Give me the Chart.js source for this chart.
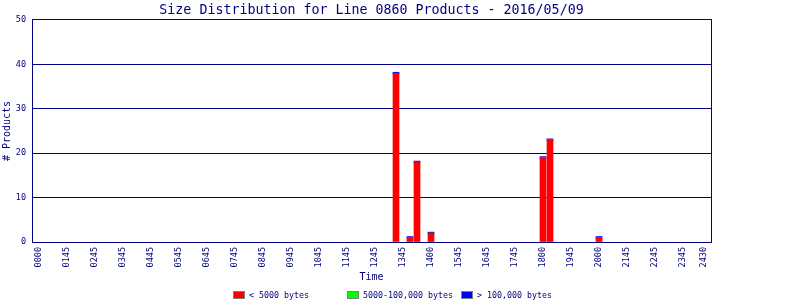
<!DOCTYPE html>
<html>
<head>
<meta charset="utf-8">
<script src="https://cdn.jsdelivr.net/npm/chart.js@4/dist/chart.umd.min.js"></script>
<style>
  html, body { margin: 0; padding: 0; background: #ffffff; }
  #wrap { width: 800px; height: 300px; }
</style>
</head>
<body>
<div id="wrap"><canvas id="c" width="800" height="300"></canvas></div>
<script>
// ---- data ----
const chartTitle = 'Size Distribution for Line 0860 Products - 2016/05/09';
const seriesNames = ['< 5000 bytes', '5000-100,000 bytes', '> 100,000 bytes'];
const seriesColors = ['#ff0000', '#00ff00', '#0000ff'];
// time slots (x positions) that have products
const barSlots = [51, 53, 54, 56, 72, 73, 80];
const smallCounts = [38, 1, 18, 2, 19, 23, 1];
const mediumCounts = [0, 0, 0, 0, 0, 0, 0];
const largeCounts = [0, 0, 0, 0, 0, 0, 0];
// x tick labels and their slots
const tickSlots = [0, 4, 8, 12, 16, 20, 24, 28, 32, 36, 40, 44, 48, 52, 56, 60, 64, 68, 72, 76, 80, 84, 88, 92, 95];
const tickLabels = ['0000', '0145', '0245', '0345', '0445', '0545', '0645', '0745', '0845', '0945', '1045', '1145', '1245',
  '1345', '1400', '1545', '1645', '1745', '1800', '1945', '2000', '2145', '2245', '2345', '2430'];
const yMax = 50;
const yStep = 10;

// ---- styling ----
const NAVY = '#000080';
const MONO = "'DejaVu Sans Mono', 'Liberation Mono', monospace";

function pts(vals) { return barSlots.map((s, i) => ({ x: s, y: vals[i] })); }

const legendPlugin = {
  id: 'fixedLegend',
  afterDraw(chart) {
    const ctx = chart.ctx;
    ctx.save();
    const startX = 233, colW = 114, boxY = 291, boxW = 12, boxH = 8;
    ctx.font = '8.3px ' + MONO;
    ctx.textBaseline = 'middle';
    ctx.textAlign = 'left';
    seriesNames.forEach((name, i) => {
      const x = startX + i * colW;
      ctx.fillStyle = seriesColors[i];
      ctx.fillRect(x, boxY, boxW, boxH);
      ctx.strokeStyle = '#808080';
      ctx.lineWidth = 1;
      ctx.strokeRect(x + 0.5, boxY + 0.5, boxW - 1, boxH - 1);
      ctx.fillStyle = NAVY;
      ctx.fillText(name, x + 16, boxY + boxH / 2 + 0.5);
    });
    ctx.restore();
  }
};

new Chart(document.getElementById('c'), {
  type: 'bar',
  data: {
    datasets: [
      { label: seriesNames[0], data: pts(smallCounts), backgroundColor: seriesColors[0], stack: 's' },
      { label: seriesNames[1], data: pts(mediumCounts), backgroundColor: seriesColors[1], stack: 's' },
      { label: seriesNames[2], data: pts(largeCounts), backgroundColor: seriesColors[2], stack: 's', minBarLength: 2 }
    ]
  },
  options: {
    responsive: false,
    animation: false,
    layout: { padding: { left: 0, right: 89, top: 0, bottom: 12 } },
    datasets: { bar: { barThickness: 6, borderWidth: 0 } },
    plugins: {
      legend: { display: false },
      tooltip: { enabled: false },
      title: {
        display: true,
        text: chartTitle,
        fullSize: false,
        color: NAVY,
        font: { family: MONO, size: 13.3, weight: 'normal', lineHeight: 1.2 },
        padding: { top: 3, bottom: 1 }
      }
    },
    scales: {
      x: {
        type: 'linear',
        min: -1,
        max: 96,
        offset: false,
        grid: { display: false, drawTicks: false, offset: false },
        border: { display: true, color: NAVY, width: 1 },
        afterBuildTicks(scale) { scale.ticks = tickSlots.map(v => ({ value: v })); },
        afterFit(scale) { scale.height = 46; },
        ticks: {
          autoSkip: false,
          minRotation: 90,
          maxRotation: 90,
          padding: 5,
          color: NAVY,
          font: { family: MONO, size: 8.5 },
          callback: (v, i) => tickLabels[i]
        },
        title: {
          display: true, text: 'Time', color: NAVY,
          font: { family: MONO, size: 10, lineHeight: 1.2 },
          padding: { top: 0, bottom: 5 }
        }
      },
      y: {
        stacked: true,
        min: 0,
        max: yMax,
        afterFit(scale) { scale.width = 32; },
        grid: { color: NAVY, lineWidth: 1, drawTicks: false },
        border: { display: true, color: NAVY, width: 1 },
        ticks: {
          stepSize: yStep,
          padding: 6,
          color: NAVY,
          font: { family: MONO, size: 8.5 }
        },
        title: {
          display: true, text: '# Products', color: NAVY,
          font: { family: MONO, size: 10, lineHeight: 1.2 },
          padding: { top: 1, bottom: 0 }
        }
      },
      yRight: {
        type: 'linear',
        position: 'right',
        min: 0,
        max: yMax,
        grid: { display: false, drawTicks: false },
        border: { display: true, color: NAVY, width: 1 },
        ticks: { display: false },
        afterFit(scale) { scale.width = 0; }
      }
    }
  },
  plugins: [legendPlugin]
});
</script>
</body>
</html>
